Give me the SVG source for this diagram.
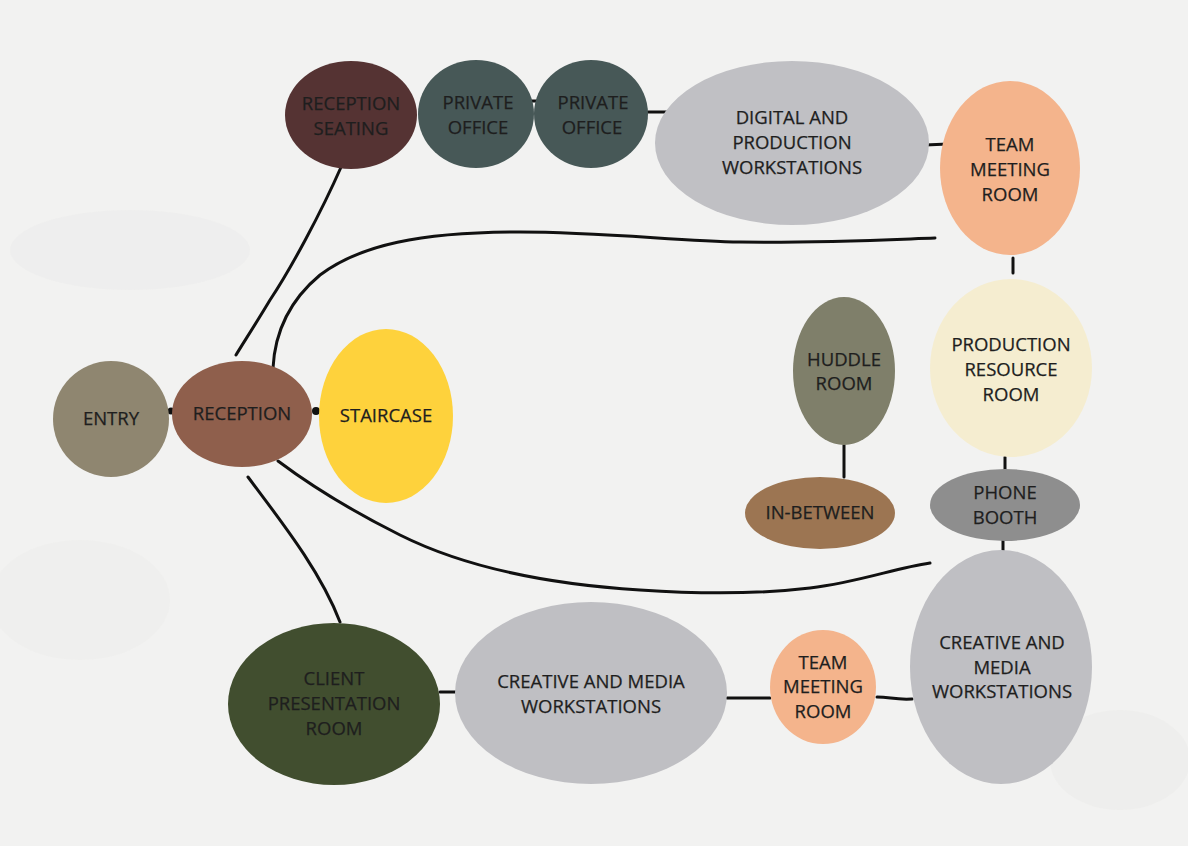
<svg xmlns="http://www.w3.org/2000/svg" width="1188" height="846" viewBox="0 0 1188 846">
<style>
.lbl{font-family:"Open Sans","Liberation Sans",sans-serif;font-size:18.5px;fill:#1e1e1e;stroke:#1e1e1e;stroke-width:0.25;text-anchor:middle}
.ln{fill:none;stroke:#111;stroke-width:3;stroke-linecap:round;stroke-linejoin:round}
.dot{fill:#111}
</style>
<rect width="1188" height="846" fill="#f2f2f1"/>
<g opacity="0.35">
<ellipse cx="130" cy="250" rx="120" ry="40" fill="#e9e9e8"/>
<ellipse cx="80" cy="600" rx="90" ry="60" fill="#eaeae9"/>
<ellipse cx="1120" cy="760" rx="70" ry="50" fill="#e8e8e6"/>
</g>
<g id="connectors">
<path class="ln" d="M342,165 C320,215 290,270 270,300 C255,325 242,345 236,355"/>
<path class="ln" d="M273,368 C275,330 290,300 320,275 C360,245 420,232 520,232 C600,232 680,241 740,242 C820,243 880,240 935,238"/>
<path class="ln" d="M278,461 C310,485 350,510 400,535 C470,570 560,585 640,590 C700,594 760,594 810,588 C860,582 895,568 930,563"/>
<path class="ln" d="M248,477 C280,520 320,570 340,622"/>
<path class="ln" d="M531,101 L538,101"/>
<path class="ln" d="M648,112 L668,112"/>
<path class="ln" d="M925,145 L948,144"/>
<path class="ln" d="M1013,258 L1013,273"/>
<path class="ln" d="M1005,457 L1005,470"/>
<path class="ln" d="M1003,540 L1003,555"/>
<path class="ln" d="M844,445 L844,477"/>
<path class="ln" d="M440,692 L457,692"/>
<path class="ln" d="M727,698 L770,698"/>
<path class="ln" d="M877,697 C890,697 895,700 912,699"/>
<circle class="dot" cx="171" cy="411" r="3.5"/>
<circle class="dot" cx="316" cy="411" r="4"/>
</g>
<g id="entry"><ellipse cx="111" cy="419" rx="58" ry="58" fill="#8f8670"/><text class="lbl" x="111" y="425">ENTRY</text></g>
<g id="reception"><ellipse cx="242" cy="414" rx="70" ry="53" fill="#8f5f4c"/><text class="lbl" x="242" y="420">RECEPTION</text></g>
<g id="staircase"><ellipse cx="386" cy="416" rx="67" ry="87" fill="#fed23c"/><text class="lbl" x="386" y="422">STAIRCASE</text></g>
<g id="reception-seating"><ellipse cx="351" cy="115" rx="66" ry="54" fill="#553333"/><text class="lbl" x="351" y="110">RECEPTION</text><text class="lbl" x="351" y="135">SEATING</text></g>
<g id="private-office-1"><ellipse cx="476" cy="114" rx="58" ry="54" fill="#475857"/><text class="lbl" x="478" y="109">PRIVATE</text><text class="lbl" x="478" y="134">OFFICE</text></g>
<g id="private-office-2"><ellipse cx="591" cy="114" rx="57" ry="54" fill="#475857"/><text class="lbl" x="593" y="109">PRIVATE</text><text class="lbl" x="592" y="134">OFFICE</text></g>
<g id="digital-production"><ellipse cx="792" cy="143" rx="137" ry="82" fill="#c0c0c4"/><text class="lbl" x="792" y="124">DIGITAL AND</text><text class="lbl" x="792" y="149">PRODUCTION</text><text class="lbl" x="792" y="174">WORKSTATIONS</text></g>
<g id="team-meeting-top"><ellipse cx="1010" cy="168" rx="70" ry="87" fill="#f4b48c"/><text class="lbl" x="1010" y="151">TEAM</text><text class="lbl" x="1010" y="176">MEETING</text><text class="lbl" x="1010" y="201">ROOM</text></g>
<g id="production-resource"><ellipse cx="1011" cy="368" rx="81" ry="89" fill="#f5edd0"/><text class="lbl" x="1011" y="351">PRODUCTION</text><text class="lbl" x="1011" y="376">RESOURCE</text><text class="lbl" x="1011" y="401">ROOM</text></g>
<g id="huddle-room"><ellipse cx="844" cy="371" rx="51" ry="74" fill="#7f7f6a"/><text class="lbl" x="844" y="366">HUDDLE</text><text class="lbl" x="844" y="390">ROOM</text></g>
<g id="in-between"><ellipse cx="820" cy="513" rx="75" ry="36" fill="#9c7552"/><text class="lbl" x="820" y="519">IN-BETWEEN</text></g>
<g id="phone-booth"><ellipse cx="1005" cy="505" rx="75" ry="36" fill="#8e8e8e"/><text class="lbl" x="1005" y="499">PHONE</text><text class="lbl" x="1005" y="524">BOOTH</text></g>
<g id="creative-media-right"><ellipse cx="1001" cy="667" rx="91" ry="117" fill="#bfbfc3"/><text class="lbl" x="1002" y="649">CREATIVE AND</text><text class="lbl" x="1002" y="674">MEDIA</text><text class="lbl" x="1002" y="698">WORKSTATIONS</text></g>
<g id="team-meeting-bottom"><ellipse cx="823" cy="687" rx="53" ry="57" fill="#f4b48c"/><text class="lbl" x="823" y="669">TEAM</text><text class="lbl" x="823" y="693">MEETING</text><text class="lbl" x="823" y="718">ROOM</text></g>
<g id="creative-media-bottom"><ellipse cx="591" cy="693" rx="136" ry="91" fill="#bfbfc3"/><text class="lbl" x="591" y="688">CREATIVE AND MEDIA</text><text class="lbl" x="591" y="713">WORKSTATIONS</text></g>
<g id="client-presentation"><ellipse cx="334" cy="704" rx="106" ry="81" fill="#414e2f"/><text class="lbl" x="334" y="685">CLIENT</text><text class="lbl" x="334" y="710">PRESENTATION</text><text class="lbl" x="334" y="735">ROOM</text></g>
</svg>
